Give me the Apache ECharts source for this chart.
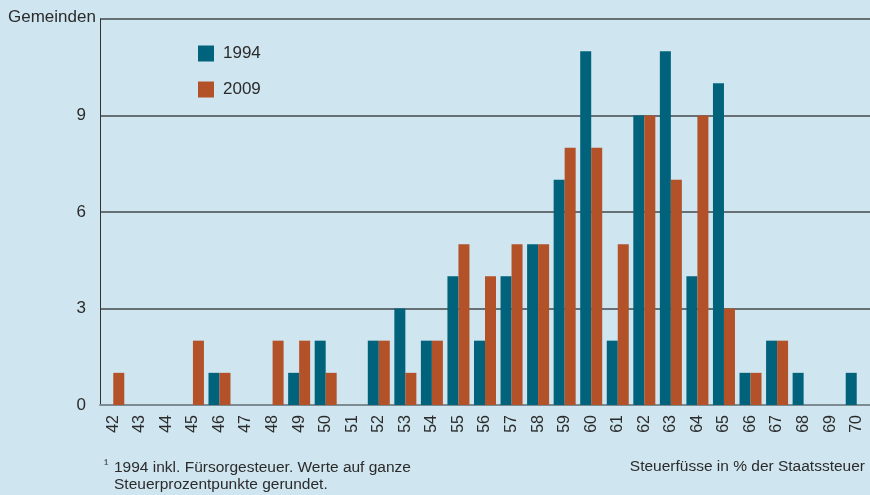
<!DOCTYPE html>
<html>
<head>
<meta charset="utf-8">
<script src="https://cdn.jsdelivr.net/npm/echarts@6/dist/echarts.min.js"></script>
<style>
html, body { margin: 0; padding: 0; background: #cfe5ef; }
#chart { width: 870px; height: 495px; }
</style>
</head>
<body>
<div id="chart"></div>
<script>
// Steuerfuss categories (in % der Staatssteuer)
var categories = ["42","43","44","45","46","47","48","49","50","51","52","53","54","55","56",
  "57","58","59","60","61","62","63","64","65","66","67","68","69","70"];
var values1994 = [0,0,0,0,1,0,0,1,2,0,2,3,2,4,2,4,5,7,11,2,9,11,4,10,1,2,1,0,1];
var values2009 = [1,0,0,2,1,0,2,2,1,0,2,1,2,5,4,5,5,8,8,5,9,7,9,3,1,2,0,0,0];
var yTicks = [0, 3, 6, 9];

var font = '"Liberation Sans Narrow", "Liberation Sans", Arial, sans-serif';
var textColor = "#2b2b2b";
var colors = ["#00637b", "#b35129"];

var myChart = echarts.init(document.getElementById("chart"));
myChart.setOption({
  backgroundColor: "#cfe5ef",
  animation: false,
  color: colors,
  textStyle: { fontFamily: font },
  grid: { left: 100, right: -2, top: 19, bottom: 90 },
  legend: {
    left: 193,
    top: 40,
    orient: "vertical",
    itemWidth: 16,
    itemHeight: 16,
    itemGap: 19,
    icon: "rect",
    textStyle: { fontFamily: font, fontSize: 17, color: textColor, padding: [0, 0, 0, 4] },
    data: ["1994", "2009"]
  },
  xAxis: {
    type: "category",
    data: categories,
    axisLine: { show: true, lineStyle: { color: "#7d8c93", width: 2 } },
    axisTick: { show: false },
    axisLabel: {
      rotate: 90,
      margin: 10,
      fontFamily: font,
      fontSize: 16,
      color: textColor
    }
  },
  yAxis: {
    type: "value",
    min: 0,
    max: 12,
    interval: 3,
    axisLine: { show: true, lineStyle: { color: "#333", width: 1 } },
    axisTick: { show: false },
    splitLine: { show: true, lineStyle: { color: "#454a4d", width: 1.5 } },
    axisLabel: {
      margin: 14,
      fontFamily: font,
      fontSize: 17,
      color: textColor,
      formatter: function (v) {
        return yTicks.indexOf(v) >= 0 ? String(v) : "";
      }
    }
  },
  series: [
    { name: "1994", type: "bar", barWidth: 11, barGap: "0%", data: values1994 },
    { name: "2009", type: "bar", barWidth: 11, barGap: "0%", data: values2009 }
  ],
  graphic: [
    {
      type: "text", left: 8, top: 9,
      style: { text: "Gemeinden", font: "17px " + font, fill: textColor }
    },
    {
      type: "text", left: 104, top: 458,
      style: { text: "¹", font: "13px " + font, fill: textColor }
    },
    {
      type: "text", left: 114, top: 459,
      style: {
        text: "1994 inkl. Fürsorgesteuer. Werte auf ganze\nSteuerprozentpunkte gerundet.",
        font: "15.5px " + font, fill: textColor, lineHeight: 17
      }
    },
    {
      type: "text", right: 5, top: 459,
      style: { text: "Steuerfüsse in % der Staatssteuer", font: "15.5px " + font, fill: textColor }
    }
  ]
});
</script>
</body>
</html>
